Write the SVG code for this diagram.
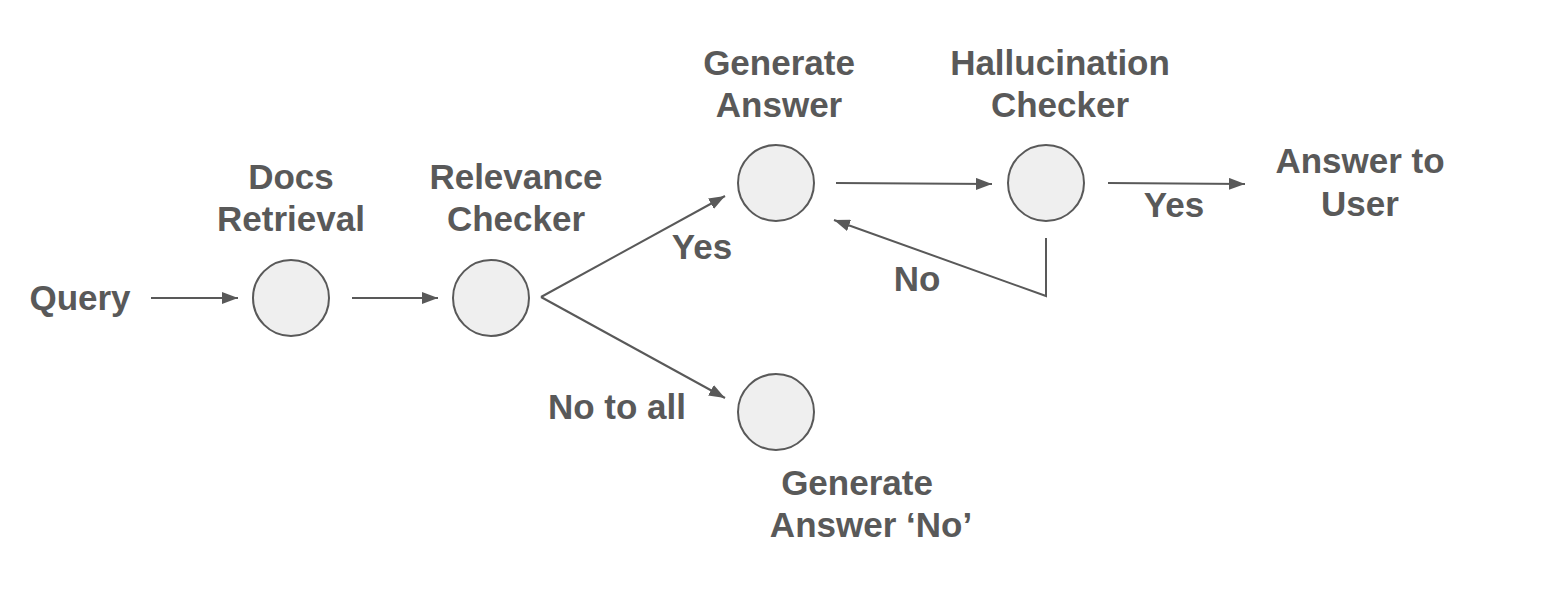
<svg xmlns="http://www.w3.org/2000/svg" width="1546" height="616" viewBox="0 0 1546 616">
<defs>
<marker id="ah" markerWidth="16" markerHeight="12" refX="16" refY="6" orient="auto" markerUnits="userSpaceOnUse">
<path d="M0,0 L16,6 L0,12 Z" fill="#595959"/>
</marker>
<style>
.n{fill:#efefef;stroke:#595959;stroke-width:2}
.t{font-family:"Liberation Sans",Arial,sans-serif;font-weight:bold;font-size:35px;fill:#595959;text-anchor:middle}
.c{stroke:#595959;stroke-width:2;fill:none}
</style>
</defs>
<rect width="1546" height="616" fill="#ffffff"/>
<g id="query"><text class="t" x="80" y="310">Query</text></g>
<g id="docs">
<circle class="n" cx="291" cy="298" r="38"/>
<text class="t" x="291" y="189">Docs</text>
<text class="t" x="291" y="231">Retrieval</text>
</g>
<g id="relevance">
<circle class="n" cx="491" cy="298" r="38"/>
<text class="t" x="516" y="189">Relevance</text>
<text class="t" x="516" y="231">Checker</text>
</g>
<g id="generate">
<circle class="n" cx="776" cy="183" r="38"/>
<text class="t" x="779" y="75">Generate</text>
<text class="t" x="779" y="117">Answer</text>
</g>
<g id="hallucination">
<circle class="n" cx="1046" cy="183" r="38"/>
<text class="t" x="1060" y="75">Hallucination</text>
<text class="t" x="1060" y="117">Checker</text>
</g>
<g id="user">
<text class="t" x="1360" y="173">Answer to</text>
<text class="t" x="1360" y="216">User</text>
</g>
<g id="generate-no">
<circle class="n" cx="776" cy="412" r="38"/>
<text class="t" x="857" y="495">Generate</text>
<text class="t" x="871" y="537">Answer ‘No’</text>
</g>
<g id="connectors">
<line class="c" x1="151" y1="298" x2="238" y2="298" marker-end="url(#ah)"/>
<line class="c" x1="352" y1="298" x2="438" y2="298" marker-end="url(#ah)"/>
<line class="c" x1="541" y1="297" x2="725" y2="196" marker-end="url(#ah)"/>
<line class="c" x1="541" y1="297" x2="725" y2="398" marker-end="url(#ah)"/>
<line class="c" x1="836" y1="183" x2="992" y2="184" marker-end="url(#ah)"/>
<line class="c" x1="1108" y1="183" x2="1245" y2="184" marker-end="url(#ah)"/>
<polyline class="c" points="1046,238 1046,296 834,220" marker-end="url(#ah)"/>
<text class="t" x="702" y="259">Yes</text>
<text class="t" x="917" y="291">No</text>
<text class="t" x="1174" y="217">Yes</text>
<text class="t" x="617" y="419">No to all</text>
</g>
</svg>
